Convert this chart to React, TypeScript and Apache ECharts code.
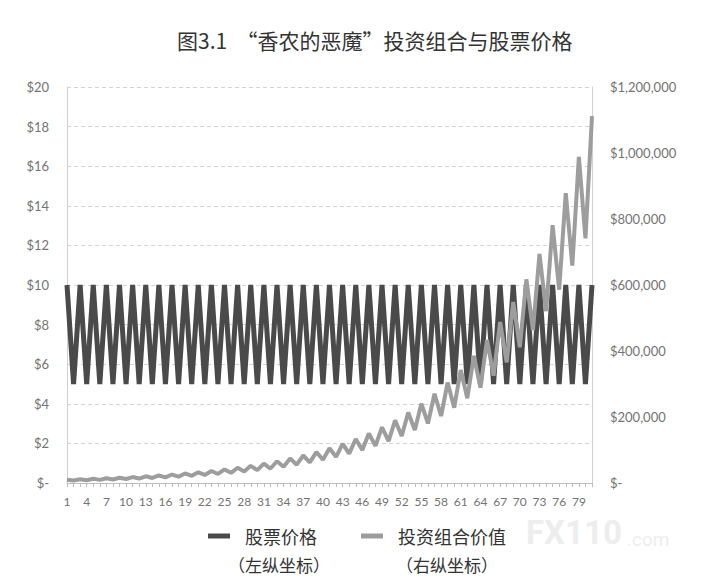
import { useEffect, useRef } from "react";
import * as echarts from "echarts";

// 期数（横轴）
const periods = [
  "1", "2", "3", "4", "5", "6", "7", "8", "9", "10",
  "11", "12", "13", "14", "15", "16", "17", "18", "19", "20",
  "21", "22", "23", "24", "25", "26", "27", "28", "29", "30",
  "31", "32", "33", "34", "35", "36", "37", "38", "39", "40",
  "41", "42", "43", "44", "45", "46", "47", "48", "49", "50",
  "51", "52", "53", "54", "55", "56", "57", "58", "59", "60",
  "61", "62", "63", "64", "65", "66", "67", "68", "69", "70",
  "71", "72", "73", "74", "75", "76", "77", "78", "79", "80",
  "81",
];

// 股票价格（左纵坐标）
const stockPrice = [
  10, 5, 10, 5, 10, 5, 10, 5, 10, 5,
  10, 5, 10, 5, 10, 5, 10, 5, 10, 5,
  10, 5, 10, 5, 10, 5, 10, 5, 10, 5,
  10, 5, 10, 5, 10, 5, 10, 5, 10, 5,
  10, 5, 10, 5, 10, 5, 10, 5, 10, 5,
  10, 5, 10, 5, 10, 5, 10, 5, 10, 5,
  10, 5, 10, 5, 10, 5, 10, 5, 10, 5,
  10, 5, 10, 5, 10, 5, 10, 5, 10, 5,
  10,
];

// 投资组合价值（右纵坐标）
const portfolioValue = [
  10000, 7500, 11250, 8438, 12656, 9492, 14238, 10679, 16018, 12014,
  18020, 13515, 20273, 15205, 22807, 17105, 25658, 19244, 28865, 21649,
  32473, 24355, 36532, 27399, 41099, 30824, 46236, 34677, 52016, 39012,
  58518, 43889, 65833, 49375, 74062, 55547, 83320, 62489, 93735, 70301,
  105451, 79088, 118632, 88974, 133461, 100096, 150144, 112608, 168912, 126684,
  190026, 142520, 213779, 160334, 240502, 180377, 270565, 202924, 304385, 228289,
  342433, 256825, 385237, 288928, 433392, 325044, 487566, 365675, 548512, 411384,
  617076, 462807, 694211, 520658, 780988, 585741, 878611, 658958, 988437, 741328,
  1111992,
];

const leftFmt = (v: number) => (v === 0 ? "$-" : "$" + v);
const rightFmt = (v: number) => (v === 0 ? "$-" : "$" + v.toLocaleString("en-US"));

export default function App() {
  const chartRef = useRef<HTMLDivElement>(null);

  useEffect(() => {
    if (!chartRef.current) return;
    document.body.style.margin = "0";
    const myChart = echarts.init(chartRef.current, null, { renderer: "svg" });

    const axisFont = { color: "#737373", fontSize: 13, fontFamily: "Lato" };
    const cjk = "Noto Sans CJK SC";

    const option = {
      animation: false,
      backgroundColor: "#fff",
      title: {
        text: "图3.1  “香农的恶魔”投资组合与股票价格",
        left: 172,
        top: 24,
        textStyle: { fontFamily: cjk, fontSize: 21, fontWeight: "normal", color: "#333" },
      },
      grid: { left: 67, right: 116, top: 87, bottom: 102 },
      legend: {
        left: 203,
        top: 522,
        itemWidth: 22,
        itemHeight: 5,
        itemGap: 44,
        icon: "rect",
        textStyle: {
          fontFamily: cjk,
          fontSize: 18,
          color: "#333",
          padding: [0, 0, 0, 10],
        },
        data: ["股票价格", "投资组合价值"],
      },
      xAxis: {
        type: "category",
        data: periods,
        boundaryGap: false,
        axisLine: { lineStyle: { color: "#bdbdbd" } },
        axisTick: { interval: 0, length: 4, lineStyle: { color: "#bdbdbd" } },
        axisLabel: { ...axisFont, fontSize: 12, interval: 2, margin: 12 },
      },
      yAxis: [
        {
          type: "value",
          min: 0,
          max: 20,
          interval: 2,
          axisLine: { show: true, lineStyle: { color: "#d0d0d0" } },
          axisTick: { show: false },
          axisLabel: { ...axisFont, margin: 18, formatter: leftFmt },
          splitLine: { lineStyle: { color: "#d4d4d4", type: [4, 3] } },
        },
        {
          type: "value",
          min: 0,
          max: 1200000,
          interval: 200000,
          axisLine: { show: true, lineStyle: { color: "#d0d0d0" } },
          axisTick: { show: false },
          axisLabel: { ...axisFont, margin: 18, formatter: rightFmt },
          splitLine: { show: false },
        },
      ],
      series: [
        {
          name: "股票价格",
          type: "line",
          yAxisIndex: 0,
          data: stockPrice,
          symbol: "none",
          color: "#4a4a4a",
          lineStyle: { width: 5, color: "#4a4a4a" },
        },
        {
          name: "投资组合价值",
          type: "line",
          yAxisIndex: 1,
          data: portfolioValue,
          symbol: "none",
          color: "#9d9d9d",
          lineStyle: { width: 4, color: "#9d9d9d" },
        },
      ],
      graphic: [
        {
          type: "text",
          left: 228,
          top: 556,
          style: { text: "（左纵坐标）", font: `17px "${cjk}"`, fill: "#333" },
        },
        {
          type: "text",
          left: 396,
          top: 556,
          style: { text: "（右纵坐标）", font: `17px "${cjk}"`, fill: "#333" },
        },
        {
          type: "text",
          left: 526,
          top: 516,
          style: { text: "FX110", font: `bold 33px Roboto`, fill: "#ededed" },
        },
        {
          type: "text",
          left: 627,
          top: 530,
          style: { text: ".com", font: `19px Roboto`, fill: "#ededed" },
        },
      ],
    };

    myChart.setOption(option);

    return () => {
      myChart.dispose();
    };
  }, []);

  return <div ref={chartRef} style={{ width: "708px", height: "585px" }} />;
}
